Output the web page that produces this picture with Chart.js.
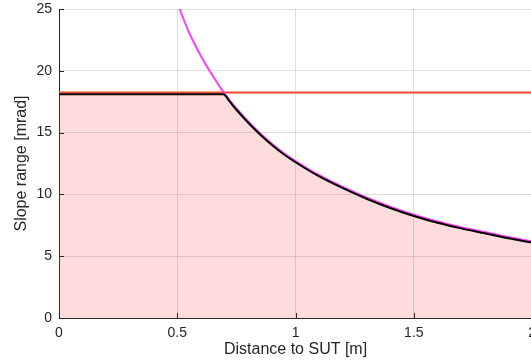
<!DOCTYPE html>
<html>
<head>
<meta charset="utf-8">
<script src="https://cdn.jsdelivr.net/npm/chart.js@4/dist/chart.umd.min.js"></script>
<style>
    html, body { margin: 0; padding: 0; background: #ffffff; overflow: hidden; }
    #chart_wrap { width: 543px; height: 364px; }
</style>
</head>
<body>
<div id="chart_wrap"><canvas id="slope_chart" width="543" height="364"></canvas></div>
<script>
// values
const x_ticks = [0, 0.5, 1, 1.5, 2];
const y_ticks = [0, 5, 10, 15, 20, 25];

// magenta: slope range limited by distance
const curve_x = [0.51, 0.55, 0.6, 0.65, 0.7, 0.75, 0.8, 0.85, 0.9, 0.95, 1.0, 1.1, 1.2, 1.3, 1.4, 1.5, 1.6, 1.7, 1.8, 1.9, 2.0];
const curve_y = [25, 23.1, 21.2, 19.6, 18.15, 16.95, 15.9, 14.95, 14.1, 13.35, 12.7, 11.55, 10.6, 9.75, 9.0, 8.35, 7.8, 7.35, 6.95, 6.55, 6.2];

// red: instrument limit
const limit_x = [0, 2];
const limit_y = [18.25, 18.25];

// black: usable range (filled)
const usable_x = [0, 0.695, 0.72, 0.75, 0.8, 0.85, 0.9, 0.95, 1.0, 1.1, 1.2, 1.3, 1.4, 1.5, 1.6, 1.7, 1.8, 1.9, 2.0];
const usable_y = [18.1, 18.1, 17.55, 16.85, 15.8, 14.85, 14.0, 13.25, 12.6, 11.45, 10.5, 9.65, 8.9, 8.25, 7.7, 7.25, 6.85, 6.45, 6.1];

const plot_colors = {
    text: '#262626',
    axis: '#262626',
    grid: 'rgba(38, 38, 38, 0.15)',
    magenta: '#ff3dff',
    red: '#ee4a2c',
    black: '#000000',
    fill: 'rgba(250, 60, 60, 0.18)',
};

function to_points(xs, ys) {
    return xs.map(function (x, idx) {
        return { x: x, y: ys[idx] };
    });
}

// MATLAB style inward tick marks
const inner_ticks = {
    id: 'inner_ticks',
    afterDatasetsDraw: function (chart) {
        const ctx = chart.ctx;
        const area = chart.chartArea;
        const xs = chart.scales.x;
        const ys = chart.scales.y;
        ctx.save();
        ctx.strokeStyle = plot_colors.axis;
        ctx.lineWidth = 1;
        ctx.beginPath();
        x_ticks.forEach(function (v) {
            const px = Math.round(xs.getPixelForValue(v)) + 0.5;
            ctx.moveTo(px, area.bottom);
            ctx.lineTo(px, area.bottom - 5);
        });
        y_ticks.forEach(function (v) {
            const py = Math.round(ys.getPixelForValue(v)) + 0.5;
            ctx.moveTo(area.left, py);
            ctx.lineTo(area.left + 5, py);
        });
        ctx.stroke();
        ctx.restore();
    },
};

new Chart(document.getElementById('slope_chart').getContext('2d'), {
    type: 'line',
    data: {
        datasets: [
            {
                label: 'Usable range',
                data: to_points(usable_x, usable_y),
                borderColor: plot_colors.black,
                backgroundColor: plot_colors.fill,
                borderWidth: 2,
                fill: 'origin',
                pointRadius: 0,
                cubicInterpolationMode: 'monotone',
                order: 1,
            },
            {
                label: 'Instrument limit',
                data: to_points(limit_x, limit_y),
                borderColor: plot_colors.red,
                borderWidth: 2,
                fill: false,
                pointRadius: 0,
                order: 3,
            },
            {
                label: 'Distance limit',
                data: to_points(curve_x, curve_y),
                borderColor: plot_colors.magenta,
                borderWidth: 2,
                fill: false,
                pointRadius: 0,
                cubicInterpolationMode: 'monotone',
                order: 2,
            },
        ],
    },
    options: {
        responsive: false,
        animation: false,
        layout: { padding: 0 },
        plugins: {
            legend: { display: false },
            tooltip: { enabled: false },
        },
        scales: {
            x: {
                type: 'linear',
                min: 0,
                max: 2,
                afterBuildTicks: function (scale) {
                    scale.ticks = x_ticks.map(function (v) { return { value: v }; });
                },
                afterFit: function (scale) { scale.height = 46; },
                ticks: {
                    color: plot_colors.text,
                    font: { family: 'Liberation Sans', size: 14 },
                    padding: 7,
                    maxRotation: 0,
                    callback: function (v) { return String(v); },
                },
                grid: { color: plot_colors.grid, drawTicks: false, lineWidth: 1 },
                border: { display: true, color: plot_colors.axis, width: 1 },
                title: {
                    display: true,
                    text: 'Distance to SUT [m]',
                    color: plot_colors.text,
                    font: { family: 'Liberation Sans', size: 16 },
                    padding: { top: 0, bottom: 5 },
                },
            },
            y: {
                type: 'linear',
                min: 0,
                max: 25,
                afterBuildTicks: function (scale) {
                    scale.ticks = y_ticks.map(function (v) { return { value: v }; });
                },
                afterFit: function (scale) {
                    scale.width = 59;
                    scale.paddingTop = 9;
                    scale.paddingBottom = 0;
                },
                ticks: {
                    color: plot_colors.text,
                    font: { family: 'Liberation Sans', size: 14 },
                    padding: 7,
                },
                grid: { color: plot_colors.grid, drawTicks: false, lineWidth: 1 },
                border: { display: true, color: plot_colors.axis, width: 1 },
                title: {
                    display: true,
                    text: 'Slope range [mrad]',
                    color: plot_colors.text,
                    font: { family: 'Liberation Sans', size: 16 },
                    padding: { top: 12, bottom: 0 },
                },
            },
        },
    },
    plugins: [inner_ticks],
});
</script>
</body>
</html>
